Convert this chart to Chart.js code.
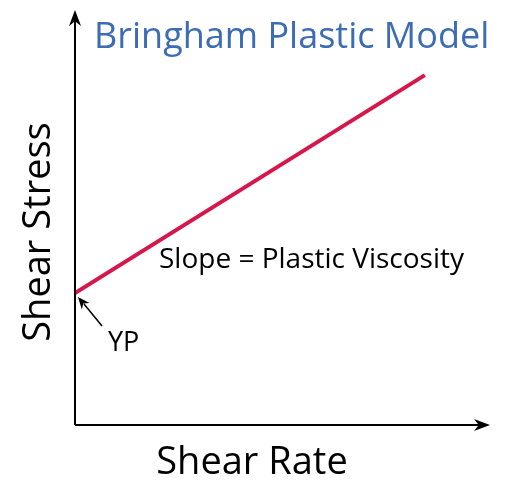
<!DOCTYPE html>
<html><head><meta charset="utf-8">
<script src="https://cdn.jsdelivr.net/npm/chart.js@4"></script>
<style>html,body{margin:0;padding:0;background:#fff}#w{width:505px;height:494px}</style>
</head><body><div id="w"><canvas id="c"></canvas></div>
<script>
const shearRate = [0, 84.3];
const shearStress = [31.8, 84.3];
const titleText = 'Bringham Plastic Model';
const slopeLabel = 'Slope = Plastic Viscosity';
const ypLabel = 'YP';
const xTitle = 'Shear Rate';
const yTitle = 'Shear Stress';

function arrowHead(ctx, x, y, ang, len, w) {
  ctx.save(); ctx.translate(x, y); ctx.rotate(ang);
  ctx.beginPath(); ctx.moveTo(0, 0); ctx.lineTo(-len, -w); ctx.lineTo(-len*0.7, 0); ctx.lineTo(-len, w); ctx.closePath(); ctx.fill();
  ctx.restore();
}
const deco = {
  id: 'deco',
  afterDraw(chart) {
    const ctx = chart.ctx, a = chart.chartArea, xs = chart.scales.x, ys = chart.scales.y;
    ctx.save();
    ctx.strokeStyle = '#000'; ctx.fillStyle = '#000'; ctx.lineWidth = 2;
    ctx.beginPath(); ctx.moveTo(a.left, a.bottom); ctx.lineTo(a.left, a.top + 6);
    ctx.moveTo(a.left, a.bottom); ctx.lineTo(a.right - 6, a.bottom); ctx.stroke();
    arrowHead(ctx, a.left, a.top, -Math.PI/2, 16, 6);
    arrowHead(ctx, a.right, a.bottom, 0, 16, 6);
    const px = xs.getPixelForValue(shearRate[0]) + 3, py = ys.getPixelForValue(shearStress[0]) + 4;
    ctx.lineWidth = 1.5;
    ctx.beginPath(); ctx.moveTo(102, 326); ctx.lineTo(px + 6, py + 7); ctx.stroke();
    arrowHead(ctx, px, py, Math.atan2(py - 326, px - 102), 12, 5);
    ctx.font = '36px "Open Sans", sans-serif';
    ctx.fillStyle = '#3c6cb4'; ctx.textBaseline = 'alphabetic'; ctx.textAlign = 'left';
    ctx.fillText(titleText, 94, 48);
    ctx.fillStyle = '#000';
    ctx.font = '28px "Open Sans", sans-serif';
    ctx.fillText(slopeLabel, 159, 268);
    ctx.font = '27px "Open Sans", sans-serif';
    ctx.fillText(ypLabel, 108, 351);
    ctx.font = '38px "Open Sans", sans-serif';
    ctx.textAlign = 'center';
    ctx.fillText(xTitle, 252, 474);
    ctx.save(); ctx.translate(50, 232); ctx.rotate(-Math.PI/2); ctx.fillText(yTitle, 0, 0); ctx.restore();
    ctx.restore();
  }
};
new Chart(document.getElementById('c'), {
  type: 'line',
  data: { datasets: [{ data: shearRate.map((x, i) => ({x, y: shearStress[i]})), borderColor: '#d6174b', borderWidth: 4, pointRadius: 0, fill: false }] },
  options: {
    responsive: true, maintainAspectRatio: false, animation: false,
    layout: { padding: { left: 75, right: 15, top: 10, bottom: 69 } },
    plugins: { legend: { display: false }, tooltip: { enabled: false } },
    scales: {
      x: { type: 'linear', min: 0, max: 100, display: false },
      y: { min: 0, max: 100, display: false }
    }
  },
  plugins: [deco]
});
</script></body></html>
